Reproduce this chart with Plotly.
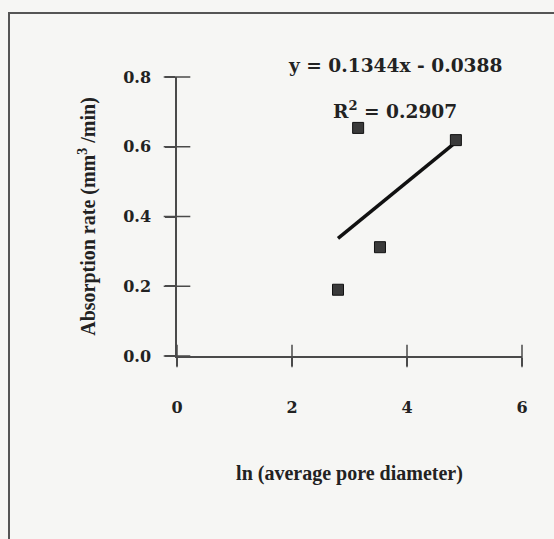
import plotly.graph_objects as go

# Data
ln_pore_diameter = [2.80, 3.15, 3.53, 4.85]
absorption_rate = [0.19, 0.654, 0.312, 0.619]

# Linear trendline stated on the chart
slope = 0.1344
intercept = -0.0388
trend_x = [min(ln_pore_diameter), max(ln_pore_diameter)]
trend_y = [slope * v + intercept for v in trend_x]

x_ticks = [0, 2, 4, 6]
y_ticks = [0.0, 0.2, 0.4, 0.6, 0.8]
y_tick_text = ["0.0", "0.2", "0.4", "0.6", "0.8"]

eq_text = "y = 0.1344x - 0.0388"
r2_text = "R<sup>2</sup> = 0.2907"

BG = "#f6f6f4"
AX = "#4a4a4a"
tick_font = dict(family="DejaVu Serif", size=16, color="#222", weight="bold")
title_font = dict(family="Liberation Serif", size=20, color="#222", weight="bold")
ann_font = dict(family="DejaVu Serif", size=18.6, color="#222", weight="bold")

fig = go.Figure()
# crossing tick marks (drawn as markers on the axis lines, from the tick lists)
fig.add_trace(go.Scatter(
    x=[0] * len(y_ticks), y=y_ticks, mode="markers", cliponaxis=False,
    marker=dict(symbol="line-ew", size=19, line=dict(color=AX, width=1.5)),
    showlegend=False, hoverinfo="skip"))
fig.add_trace(go.Scatter(
    x=x_ticks, y=[0] * len(x_ticks), mode="markers", cliponaxis=False,
    marker=dict(symbol="line-ns", size=16, line=dict(color=AX, width=1.5)),
    showlegend=False, hoverinfo="skip"))
fig.add_trace(go.Scatter(
    x=trend_x, y=trend_y, mode="lines",
    line=dict(color="#111", width=3.5), showlegend=False, hoverinfo="skip"))
fig.add_trace(go.Scatter(
    x=ln_pore_diameter, y=absorption_rate, mode="markers",
    marker=dict(symbol="square", size=11, color="#3a3a3a",
                line=dict(color="#111", width=1)),
    showlegend=False))

L, R, T, B = 177, 32, 77, 183
W, H = 554, 539
pw = W - L - R
ph = H - T - B

fig.update_layout(
    width=W, height=H,
    margin=dict(l=L, r=R, t=T, b=B),
    paper_bgcolor=BG, plot_bgcolor=BG,
    font=dict(family="DejaVu Serif", color="#222"),
    xaxis=dict(range=[0, 6], tickvals=x_ticks, ticktext=[str(v) for v in x_ticks],
               showgrid=False, zeroline=False, showline=True, linecolor=AX, linewidth=1.5,
               ticks="outside", ticklen=8, tickwidth=1.5, tickcolor=AX,
               tickfont=tick_font, ticklabelstandoff=28,
               title=dict(text="ln (average pore diameter)", font=title_font, standoff=50),
               anchor="y", fixedrange=True),
    yaxis=dict(range=[0, 0.8], tickvals=y_ticks, ticktext=y_tick_text,
               showgrid=False, zeroline=False, showline=True, linecolor=AX, linewidth=1.5,
               ticks="outside", ticklen=10, tickwidth=1.5, tickcolor=AX,
               tickfont=tick_font, ticklabelstandoff=11,
               title=dict(text="Absorption rate (mm<sup>3</sup> /min)", font=title_font,
                          standoff=22),
               anchor="x", fixedrange=True),
    annotations=[
        dict(x=3.79, y=1.043, xref="x", yref="paper", text=eq_text, showarrow=False,
             font=ann_font, xanchor="center", yanchor="middle"),
        dict(x=3.79, y=0.88, xref="x", yref="paper", text=r2_text, showarrow=False,
             font=ann_font, xanchor="center", yanchor="middle"),
    ],
    shapes=[dict(type="rect", xref="paper", yref="paper",
                 x0=(9 - L) / pw, x1=(W + 10 - L) / pw,
                 y0=-(H + 10 - T - ph) / ph, y1=(H - 13 - B) / ph,
                 line=dict(color="#555", width=2), fillcolor="rgba(0,0,0,0)",
                 layer="below")],
)

fig.write_html("out.html")
